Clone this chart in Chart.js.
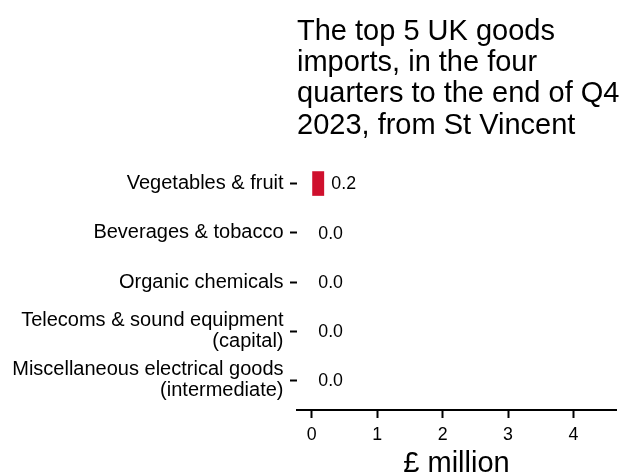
<!DOCTYPE html>
<html>
<head>
<meta charset="utf-8">
<script src="https://cdn.jsdelivr.net/npm/chart.js@4"></script>
<style>
  html, body { margin: 0; padding: 0; background: #ffffff; }
  #wrap { width: 625px; height: 472px; position: relative; }
</style>
</head>
<body>
<div id="wrap"><canvas id="c"></canvas></div>
<script>
// ---- data ----
const titleLines = [
  'The top 5 UK goods',
  'imports, in the four',
  'quarters to the end of Q4',
  '2023, from St Vincent'
];
const categories = [
  ['Vegetables & fruit'],
  ['Beverages & tobacco'],
  ['Organic chemicals'],
  ['Telecoms & sound equipment', '(capital)'],
  ['Miscellaneous electrical goods', '(intermediate)']
];
const values = [0.19, 0, 0, 0, 0];
const xTicks = [0, 1, 2, 3, 4];
const xTitle = '£ million';

const FONT = '"Liberation Sans", Arial, "DejaVu Sans", sans-serif';

const titlePlugin = {
  id: 'leftTitle',
  afterDraw(chart) {
    const ctx = chart.ctx;
    ctx.save();
    ctx.font = '29px ' + FONT;
    ctx.fillStyle = '#000000';
    ctx.textAlign = 'left';
    ctx.textBaseline = 'alphabetic';
    titleLines.forEach((line, i) => {
      ctx.fillText(line, chart.chartArea.left, 40 + 31.2 * i);
    });
    ctx.restore();
  }
};

const valueLabelPlugin = {
  id: 'valueLabels',
  afterDatasetsDraw(chart) {
    const ctx = chart.ctx;
    const xs = chart.scales.x;
    const meta = chart.getDatasetMeta(0);
    ctx.save();
    ctx.font = '17.8px ' + FONT;
    ctx.fillStyle = '#000000';
    ctx.textAlign = 'left';
    ctx.textBaseline = 'middle';
    meta.data.forEach((bar, i) => {
      const r = Math.round(values[i] * 10) / 10;
      const px = xs.getPixelForValue(r + 0.1);
      ctx.fillText(r.toFixed(1), px, bar.y + 1);
    });
    ctx.restore();
  }
};

new Chart(document.getElementById('c'), {
  type: 'bar',
  data: {
    datasets: [{
      data: values.map((v, i) => ({ x: v, y: i })),
      backgroundColor: '#CF102D',
      borderWidth: 0,
      categoryPercentage: 1,
      barPercentage: 0.5
    }]
  },
  options: {
    indexAxis: 'y',
    animation: false,
    responsive: true,
    maintainAspectRatio: false,
    layout: { padding: { top: 154, right: 9, left: 0, bottom: 0 } },
    plugins: {
      legend: { display: false },
      tooltip: { enabled: false },
      title: { display: false }
    },
    scales: {
      x: {
        type: 'linear',
        position: 'bottom',
        min: -0.225,
        max: 4.65,
        afterBuildTicks: s => { s.ticks = xTicks.map(v => ({ value: v })); },
        afterFit: s => { s.height = 62; },
        grid: {
          drawOnChartArea: false,
          drawTicks: true,
          tickLength: 8,
          tickWidth: 2,
          tickColor: '#000000'
        },
        border: { display: true, color: '#000000', width: 2 },
        ticks: {
          color: '#000000',
          padding: 6.5,
          maxRotation: 0,
          font: { family: FONT, size: 17.8 },
          callback: v => String(v)
        },
        title: {
          display: true,
          text: xTitle,
          color: '#000000',
          font: { family: FONT, size: 29, lineHeight: 1 },
          padding: { top: 0, bottom: -6.5 }
        }
      },
      y: {
        type: 'linear',
        reverse: true,
        offset: false,
        min: -0.6,
        max: 4.6,
        afterBuildTicks: s => { s.ticks = categories.map((_, i) => ({ value: i })); },
        afterFit: s => { s.width = 297; },
        grid: {
          offset: false,
          drawOnChartArea: false,
          drawTicks: true,
          tickLength: 7,
          tickWidth: 2,
          tickColor: '#000000'
        },
        border: { display: false },
        ticks: {
          color: '#000000',
          padding: 6.5,
          font: { family: FONT, size: 20, lineHeight: 1.05 },
          callback: v => categories[v]
        }
      }
    }
  },
  plugins: [titlePlugin, valueLabelPlugin]
});
</script>
</body>
</html>
